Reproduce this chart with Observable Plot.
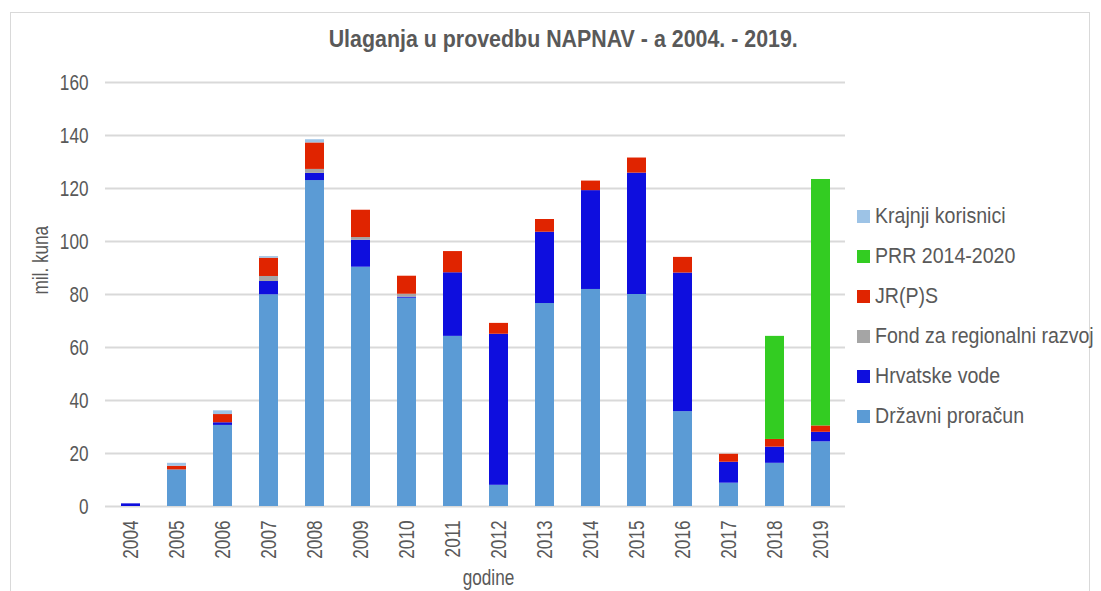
<!DOCTYPE html>
<html>
<head>
<meta charset="utf-8">
<script src="https://cdn.jsdelivr.net/npm/d3@7"></script>
<script src="https://cdn.jsdelivr.net/npm/@observablehq/plot@0.6"></script>
<style>
  html, body { margin: 0; padding: 0; background: #fff; }
  #wrap { position: relative; width: 1101px; height: 591px; overflow: hidden; font-family: "Liberation Sans", Arial, sans-serif; color: #595959; }
  #frame { position: absolute; left: 10px; top: 12px; width: 1080px; height: 600px; border: 1.5px solid #d9d9d9; box-sizing: border-box; }
  #titlebox { position: absolute; left: 0; width: 1126px; top: 26px; text-align: center; }
  #title { display: inline-block; font-weight: bold; font-size: 23px; color: #595959; transform: scaleX(0.93); transform-origin: center; white-space: nowrap; }
  #legend { position: absolute; left: 857px; top: 0; }
  .li { position: absolute; white-space: nowrap; font-size: 22.5px; color: #595959; display: flex; align-items: center; }
  .sw { width: 13px; height: 13px; margin-right: 5px; flex: none; }
  .lt { display: inline-block; transform: scaleX(0.87); transform-origin: left center; }
  #plot { position: absolute; left: 0; top: 0; }
</style>
</head>
<body>
<div id="wrap">
  <div id="frame"></div>
  <div id="plot"></div>
  <div id="titlebox"><span id="title">Ulaganja u provedbu NAPNAV - a 2004. - 2019.</span></div>
  <div id="legend"></div>
</div>
<script>
const years = ["2004","2005","2006","2007","2008","2009","2010","2011","2012","2013","2014","2015","2016","2017","2018","2019"];
const series = ["Državni proračun","Hrvatske vode","Fond za regionalni razvoj","JR(P)S","PRR 2014-2020","Krajnji korisnici"];
const colors = ["#5b9bd5","#0e0ede","#a5a5a5","#e02400","#33cc22","#9dc3e6"];
const drzavniProracun = [0, 13.8, 30.6, 79.9, 123.0, 90.3, 78.6, 64.2, 8.0, 76.6, 81.9, 80.0, 35.8, 8.8, 16.3, 24.4];
const hrvatskeVode    = [1.0, 0, 1.0, 5.0, 2.7, 10.2, 0.4, 24.0, 57.0, 26.9, 37.3, 45.8, 52.3, 7.9, 6.1, 3.6];
const fondRegionalni  = [0, 0, 0, 1.9, 1.5, 1.0, 1.1, 0, 0, 0, 0, 0, 0, 0, 0, 0];
const jrps            = [0, 1.4, 3.1, 6.9, 10.0, 10.3, 6.8, 8.0, 4.1, 4.8, 3.6, 5.7, 5.9, 3.0, 2.9, 2.4];
const prr             = [0, 0, 0, 0, 0, 0, 0, 0, 0, 0, 0, 0, 0, 0, 38.9, 93.0];
const krajnjiKorisnici= [0, 1.1, 1.4, 0.6, 1.2, 0, 0, 0, 0, 0, 0, 0, 0, 0, 0, 0];
const yTicks = [0, 20, 40, 60, 80, 100, 120, 140, 160];

const valuesBySeries = [drzavniProracun, hrvatskeVode, fondRegionalni, jrps, prr, krajnjiKorisnici];
const table = [];
series.forEach((s, si) => {
  years.forEach((y, yi) => {
    table.push({year: y, series: s, value: valuesBySeries[si][yi]});
  });
});

const chart = Plot.plot({
  width: 1101,
  height: 591,
  marginLeft: 105,
  marginRight: 256,
  marginTop: 82,
  marginBottom: 85,
  style: {fontFamily: '"Liberation Sans", Arial, sans-serif', color: "#595959", background: "transparent"},
  x: {domain: years, paddingInner: 0.59, paddingOuter: 0.295, align: 0.5},
  y: {domain: [0, 160]},
  color: {domain: series, range: colors},
  marks: [
    Plot.gridY(yTicks, {stroke: "#d9d9d9", strokeOpacity: 1, strokeWidth: 2}),
    Plot.barY(table, {x: "year", y: "value", fill: "series", order: series, inset: 0}),
    Plot.axisY(yTicks, {tickSize: 0, tickPadding: 17, fontSize: 22, fill: "#595959", label: null}),
    Plot.axisX({tickRotate: -90, tickSize: 0, tickPadding: 14, fontSize: 22, fill: "#595959", label: null}),
    Plot.text(["mil. kuna"], {frameAnchor: "left", dx: -65, dy: 0, rotate: -90, fontSize: 22, fill: "#595959"}),
    Plot.text(["godine"], {frameAnchor: "bottom", dx: 13, dy: 78, fontSize: 22, fill: "#595959"})
  ]
});
document.getElementById("plot").appendChild(chart);

// condense SVG text along its own direction (narrow face look)
const sx = 0.78;
chart.querySelectorAll("text").forEach(t => {
  const w = t.getComputedTextLength();
  if (w > 0) {
    t.setAttribute("textLength", (w * sx).toFixed(2));
    t.setAttribute("lengthAdjust", "spacingAndGlyphs");
  }
});

const legend = document.getElementById("legend");
const legendOrder = [5, 4, 3, 2, 1, 0];
const legendY = [216, 256, 296, 336, 376, 416];
legendOrder.forEach((si, i) => {
  const d = document.createElement("div");
  d.className = "li";
  d.style.top = (legendY[i] - 13) + "px";
  d.innerHTML = `<span class="sw" style="background:${colors[si]}"></span><span class="lt">${series[si]}</span>`;
  legend.appendChild(d);
});
</script>
</body>
</html>
